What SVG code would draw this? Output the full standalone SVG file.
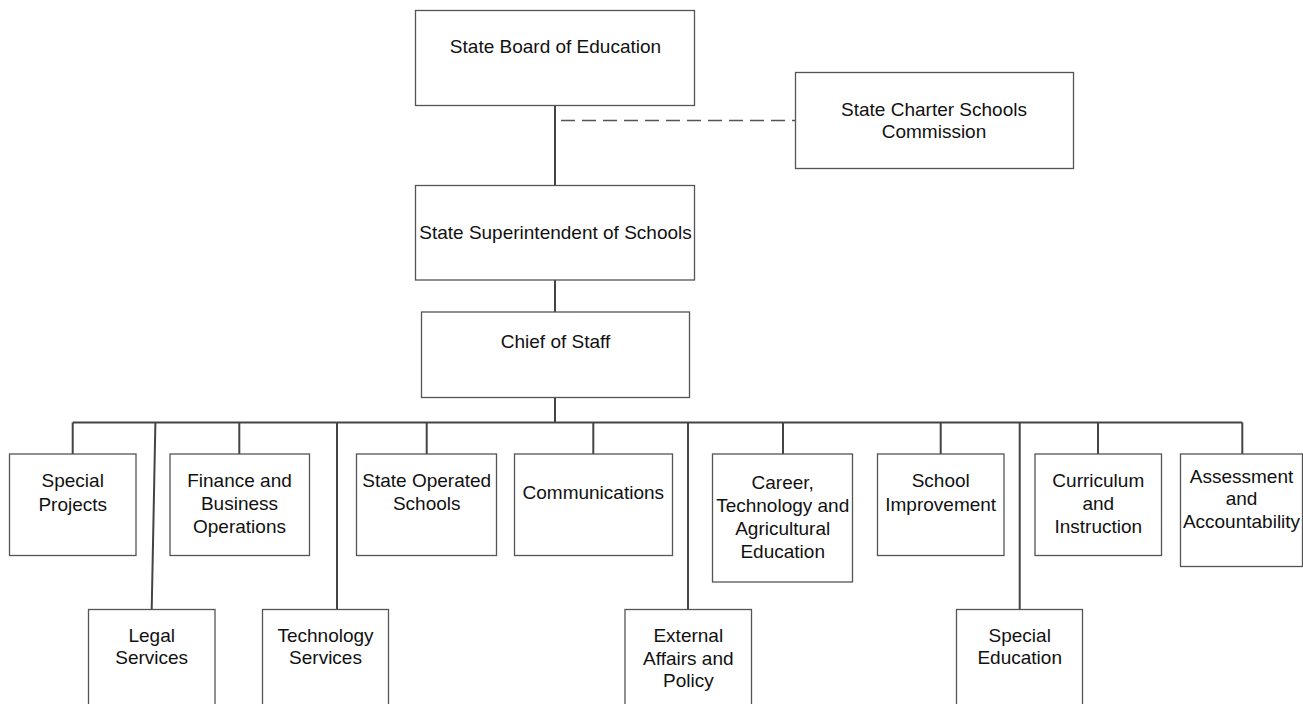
<svg xmlns="http://www.w3.org/2000/svg" width="1303" height="704" viewBox="0 0 1303 704">
<style>
.box{fill:#fff;stroke:#555;stroke-width:1.3}
.t{font-family:"Liberation Sans",Arial,sans-serif;font-size:19px;fill:#111;text-anchor:middle}
.c{fill:none;stroke:#444;stroke-width:2}
.d{fill:none;stroke:#555;stroke-width:1.6;stroke-dasharray:14 7}
</style>
<rect width="1303" height="704" fill="#fff"/>
<g id="connectors">
<path class="c" d="M555 106V185.5M555 280V312M555 397.5V422.5M72.7 422.5H1242.3"/>
<path class="d" d="M561 120.5H795"/>
<path class="c" d="M72.7 422.5V454M239.3 422.5V454M426.7 422.5V454M593.3 422.5V454M783 422.5V454M940.7 422.5V454M1098 422.5V454M1242.3 422.5V454"/>
<path class="c" d="M155.4 422.5L151.7 609.5M337 422.5V609.5M688 422.5V609.5M1019.7 422.5V609.5"/>
</g>
<g id="board"><rect class="box" x="415.5" y="10.5" width="279" height="95"/><text class="t" x="555.5" y="53">State Board of Education</text></g>
<g id="charter"><rect class="box" x="795.5" y="72.5" width="278" height="96"/><text class="t" x="934" y="115.7">State Charter Schools</text><text class="t" x="934" y="138.3">Commission</text></g>
<g id="superintendent"><rect class="box" x="415.5" y="185.5" width="279" height="94.5"/><text class="t" x="555.5" y="239.3">State Superintendent of Schools</text></g>
<g id="chief"><rect class="box" x="421.5" y="312" width="268" height="85.5"/><text class="t" x="555.5" y="348.3">Chief of Staff</text></g>
<g id="special-projects"><rect class="box" x="9.5" y="454" width="126.5" height="101.5"/><text class="t" x="72.7" y="487.3">Special</text><text class="t" x="72.7" y="510.7">Projects</text></g>
<g id="finance"><rect class="box" x="170" y="454" width="139.5" height="101.5"/><text class="t" x="239.5" y="487">Finance and</text><text class="t" x="239.5" y="510">Business</text><text class="t" x="239.5" y="533">Operations</text></g>
<g id="state-operated"><rect class="box" x="356.5" y="454" width="140" height="101.5"/><text class="t" x="426.7" y="487.3">State Operated</text><text class="t" x="426.7" y="510">Schools</text></g>
<g id="communications"><rect class="box" x="514.5" y="454" width="158" height="101.5"/><text class="t" x="593.3" y="499.3">Communications</text></g>
<g id="career"><rect class="box" x="712.5" y="454" width="140" height="128"/><text class="t" x="782.7" y="489">Career,</text><text class="t" x="782.7" y="512">Technology and</text><text class="t" x="782.7" y="535">Agricultural</text><text class="t" x="782.7" y="558">Education</text></g>
<g id="school-improvement"><rect class="box" x="877.5" y="454" width="126.5" height="101.5"/><text class="t" x="940.7" y="487.3">School</text><text class="t" x="940.7" y="510.7">Improvement</text></g>
<g id="curriculum"><rect class="box" x="1035" y="454" width="126.5" height="101.5"/><text class="t" x="1098.3" y="487">Curriculum</text><text class="t" x="1098.3" y="510">and</text><text class="t" x="1098.3" y="533">Instruction</text></g>
<g id="assessment"><rect class="box" x="1180.5" y="454" width="122" height="112.5"/><text class="t" x="1241.5" y="482.7">Assessment</text><text class="t" x="1241.5" y="505">and</text><text class="t" x="1241.5" y="528.3">Accountability</text></g>
<g id="legal"><rect class="box" x="88.5" y="609.5" width="126.5" height="100"/><text class="t" x="151.7" y="641.7">Legal</text><text class="t" x="151.7" y="664">Services</text></g>
<g id="technology"><rect class="box" x="262.5" y="609.5" width="126" height="100"/><text class="t" x="325.5" y="641.7">Technology</text><text class="t" x="325.5" y="664">Services</text></g>
<g id="external"><rect class="box" x="625" y="609.5" width="126.5" height="100"/><text class="t" x="688.3" y="641.7">External</text><text class="t" x="688.3" y="664.5">Affairs and</text><text class="t" x="688.3" y="687">Policy</text></g>
<g id="special-education"><rect class="box" x="956.5" y="609.5" width="126" height="100"/><text class="t" x="1019.7" y="641.7">Special</text><text class="t" x="1019.7" y="664">Education</text></g>
</svg>
